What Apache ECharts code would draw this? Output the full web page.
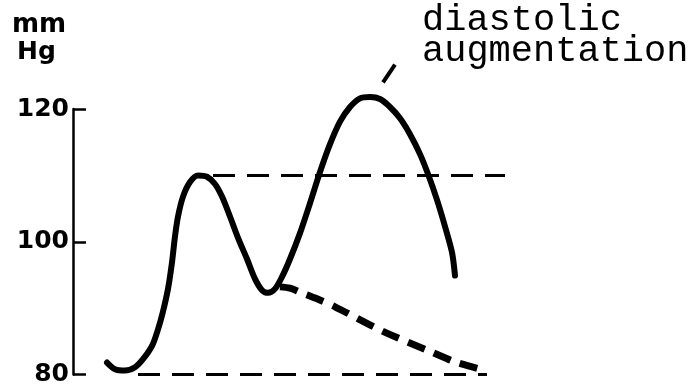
<!DOCTYPE html>
<html>
<head>
<meta charset="utf-8">
<script src="https://cdn.jsdelivr.net/npm/echarts@6/dist/echarts.min.js"></script>
<style>html,body{margin:0;padding:0;background:#fff;}#c{width:692px;height:387px;}</style>
</head>
<body>
<div id="c"></div>
<script>
// Y axis ticks (mmHg)
const yTicks = [80, 100, 120];
// Pressure curve with diastolic augmentation (time units, mmHg)
const curveT = [34,42,52,62,70,79,85,90,95,99,102,105,110,117,125,134,142,149,157,165,174,182,189,195,202,209,217,227,237,247,257,267,277,287,297,307,317,327,337,347,355,364,372,379,382];
const curveP = [81.8,80.8,80.6,81.1,82.3,84.3,86.8,89.5,92.9,96.9,100.8,103.8,106.8,109.0,110.0,109.8,108.7,106.8,103.8,100.6,97.4,94.4,92.7,92.3,92.9,94.7,97.4,101.3,105.8,110.5,114.7,118.1,120.3,121.6,121.8,121.5,120.3,118.6,116.2,113.2,110.2,106.3,102.3,98.4,94.9];
// Unassisted diastolic decay (bold dashed)
const decayT = [207,217,227,244,262,310,360,382,405];
const decayP = [93.2,93.0,92.4,91.4,90.2,86.5,83.3,81.9,80.9];
// Reference levels (thin dashed)
const upperT = [140, 432];
const upperP = [110, 110];
const lowerT = [65, 414];
const lowerP = [80, 80];
// Annotation pointer
const pointerT = [310, 322];
const pointerP = [124.0, 126.7];
const annotationLines = ['diastolic', 'augmentation'];
const unitLines = ['mm', 'Hg'];

const zip = (a, b) => a.map((v, i) => [v, b[i]]);

const chart = echarts.init(document.getElementById('c'), null, {renderer: 'canvas'});
chart.setOption({
  animation: false,
  backgroundColor: '#fff',
  grid: {left: 73, top: 109, width: 600, height: 270},
  xAxis: {type: 'value', min: 0, max: 600, show: false},
  yAxis: {
    type: 'value', min: 80, max: 120, interval: 20,
    axisLine: {show: true, lineStyle: {color: '#000', width: 2.5}},
    axisTick: {show: true, inside: true, length: 13, lineStyle: {color: '#000', width: 2.5}},
    axisLabel: {color: '#000', fontSize: 25, fontWeight: 'bold', fontFamily: 'DejaVu Sans', margin: 4,
      formatter: v => yTicks.includes(v) ? String(v) : ''},
    splitLine: {show: false}
  },
  series: [
    {type: 'line', data: zip(upperT, upperP), symbol: 'none', clip: false,
      lineStyle: {color: '#000', width: 3, type: [22, 12]}},
    {type: 'line', data: zip(lowerT, lowerP), symbol: 'none', clip: false,
      lineStyle: {color: '#000', width: 3, type: [22, 12]}},
    {type: 'line', data: zip(decayT, decayP), symbol: 'none', clip: false, smooth: 0.3,
      lineStyle: {color: '#000', width: 7, type: [18, 10]}},
    {type: 'line', data: zip(curveT, curveP), symbol: 'none', clip: false, smooth: 0.3,
      lineStyle: {color: '#000', width: 6, cap: 'round', join: 'round'}},
    {type: 'line', data: zip(pointerT, pointerP), symbol: 'none', clip: false,
      lineStyle: {color: '#000', width: 4}}
  ],
  graphic: [
    {type: 'text', left: 12, top: 12, style: {text: unitLines[0], font: 'bold 26px "DejaVu Sans"', fill: '#000'}},
    {type: 'text', left: 17, top: 40, style: {text: unitLines[1], font: 'bold 25px "DejaVu Sans"', fill: '#000'}},
    {type: 'text', left: 422, top: 2, style: {text: annotationLines[0], font: '37px "Liberation Mono"', fill: '#000'}},
    {type: 'text', left: 422, top: 33, style: {text: annotationLines[1], font: '37px "Liberation Mono"', fill: '#000'}}
  ]
});
</script>
</body>
</html>
